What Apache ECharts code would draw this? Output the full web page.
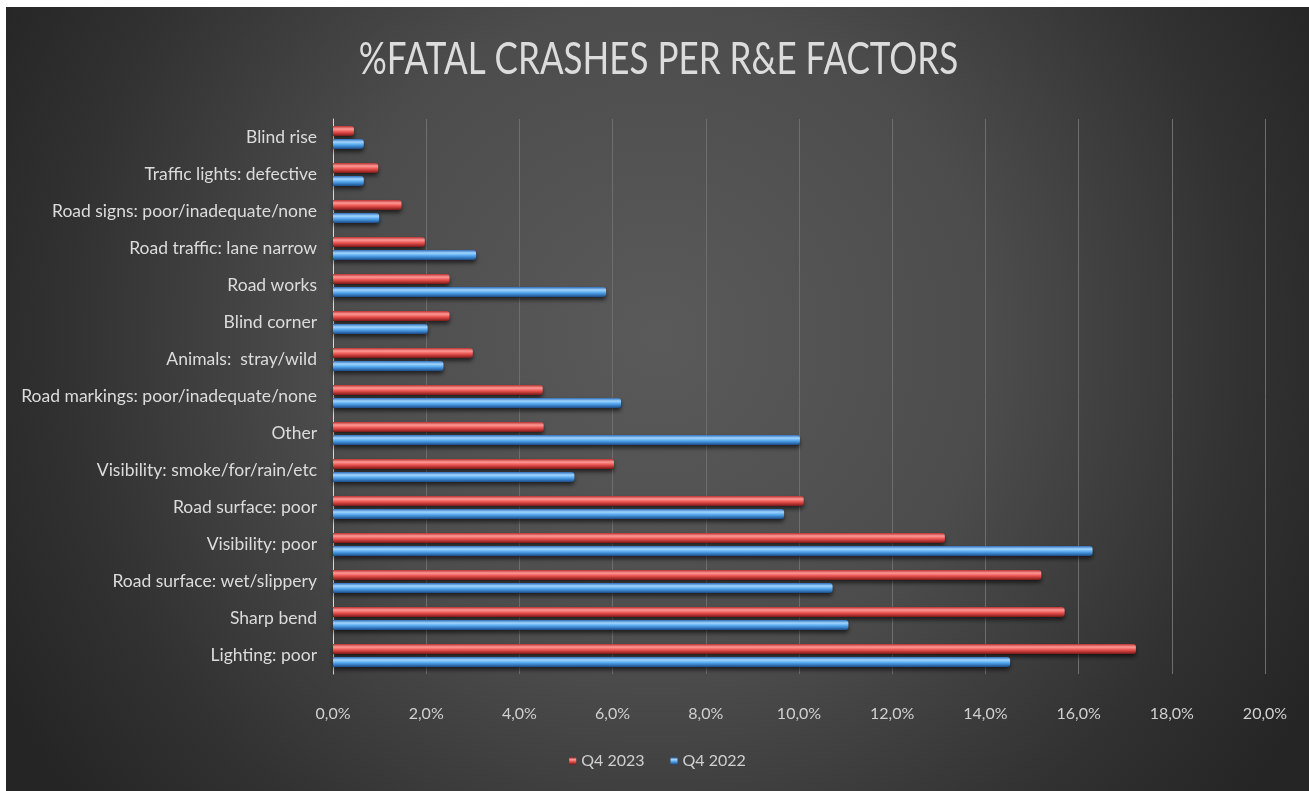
<!DOCTYPE html>
<html>
<head>
<meta charset="utf-8">
<script src="https://cdn.jsdelivr.net/npm/echarts@6/dist/echarts.min.js"></script>
<style>
  html, body { margin: 0; padding: 0; background: #ffffff; }
  #chart { position: absolute; left: 6px; top: 7px; width: 1303px; height: 784px; }
</style>
</head>
<body>
<div id="chart"></div>
<script>
// Road & environment factors, listed top to bottom
const factors = [
  'Blind rise',
  'Traffic lights: defective',
  'Road signs: poor/inadequate/none',
  'Road traffic: lane narrow',
  'Road works',
  'Blind corner',
  'Animals:  stray/wild',
  'Road markings: poor/inadequate/none',
  'Other',
  'Visibility: smoke/for/rain/etc',
  'Road surface: poor',
  'Visibility: poor',
  'Road surface: wet/slippery',
  'Sharp bend',
  'Lighting: poor'
];

// Share of fatal crashes (%)
const q4_2023 = [0.45, 0.97, 1.47, 1.97, 2.50, 2.50, 3.00, 4.50, 4.52, 6.03, 10.10, 13.13, 15.20, 15.70, 17.23];
const q4_2022 = [0.66, 0.66, 0.99, 3.07, 5.86, 2.03, 2.37, 6.18, 10.02, 5.18, 9.68, 16.30, 10.72, 11.06, 14.53];

const seriesNames = ['Q4 2023', 'Q4 2022'];
const chartTitle = '%FATAL CRASHES PER R&E FACTORS';

const FONT = 'Lato, "Open Sans", "Liberation Sans", sans-serif';

function tubeGradient(edgeTop, shine, body, edgeBottom) {
  return new echarts.graphic.LinearGradient(0, 0, 0, 1, [
    { offset: 0, color: edgeTop },
    { offset: 0.3, color: shine },
    { offset: 0.6, color: body },
    { offset: 1, color: edgeBottom }
  ]);
}

const redFill = tubeGradient('#b83030', '#ff9a96', '#e8504c', '#7a1818');
const blueFill = tubeGradient('#2d6cb8', '#a2d6ff', '#4ea2ea', '#1b4a88');

const el = document.getElementById('chart');
const chart = echarts.init(el);
const W = el.clientWidth;

chart.setOption({
  backgroundColor: {
    type: 'radial', x: 0.5, y: 0.42, r: 0.95,
    colorStops: [
      { offset: 0, color: '#5a5a5a' },
      { offset: 0.45, color: '#4c4c4c' },
      { offset: 0.8, color: '#313131' },
      { offset: 1, color: '#252525' }
    ]
  },
  // Title drawn as a slightly tall, condensed text block
  graphic: [{
    type: 'text',
    x: W / 2 + 1,
    y: 53,
    scaleY: 1.25,
    style: {
      text: chartTitle,
      fill: '#dcdcdc',
      font: '35px ' + FONT,
      align: 'center',
      verticalAlign: 'middle'
    }
  }],
  legend: {
    data: seriesNames,
    bottom: 17,
    left: 'center',
    itemWidth: 7,
    itemHeight: 7,
    itemGap: 26,
    icon: 'rect',
    textStyle: { color: '#d0d0d0', fontFamily: FONT, fontSize: 16 }
  },
  grid: { left: 327, right: 44, top: 112, bottom: 117 },
  xAxis: {
    type: 'value',
    min: 0,
    max: 20,
    interval: 2,
    axisLine: { show: false },
    axisTick: { show: false },
    splitLine: { show: true, lineStyle: { color: '#6e6e6e', width: 1 } },
    axisLabel: {
      color: '#d0d0d0',
      fontFamily: FONT,
      fontSize: 16,
      margin: 32,
      formatter: v => v.toFixed(1).replace('.', ',') + '%'
    }
  },
  yAxis: {
    type: 'category',
    data: factors,
    inverse: true,
    axisLine: { show: true, lineStyle: { color: '#d8d8d8', width: 1 } },
    axisTick: { show: false },
    axisLabel: { color: '#dcdcdc', fontFamily: FONT, fontSize: 17.5, margin: 16 }
  },
  series: [
    {
      name: seriesNames[0],
      type: 'bar',
      data: q4_2023,
      barWidth: 10,
      barGap: '30%',
      itemStyle: {
        color: redFill,
        borderRadius: [0, 3, 3, 0],
        shadowColor: 'rgba(0,0,0,0.6)',
        shadowBlur: 4,
        shadowOffsetY: 3
      }
    },
    {
      name: seriesNames[1],
      type: 'bar',
      data: q4_2022,
      barWidth: 10,
      itemStyle: {
        color: blueFill,
        borderRadius: [0, 3, 3, 0],
        shadowColor: 'rgba(0,0,0,0.6)',
        shadowBlur: 4,
        shadowOffsetY: 3
      }
    }
  ]
});
</script>
</body>
</html>
